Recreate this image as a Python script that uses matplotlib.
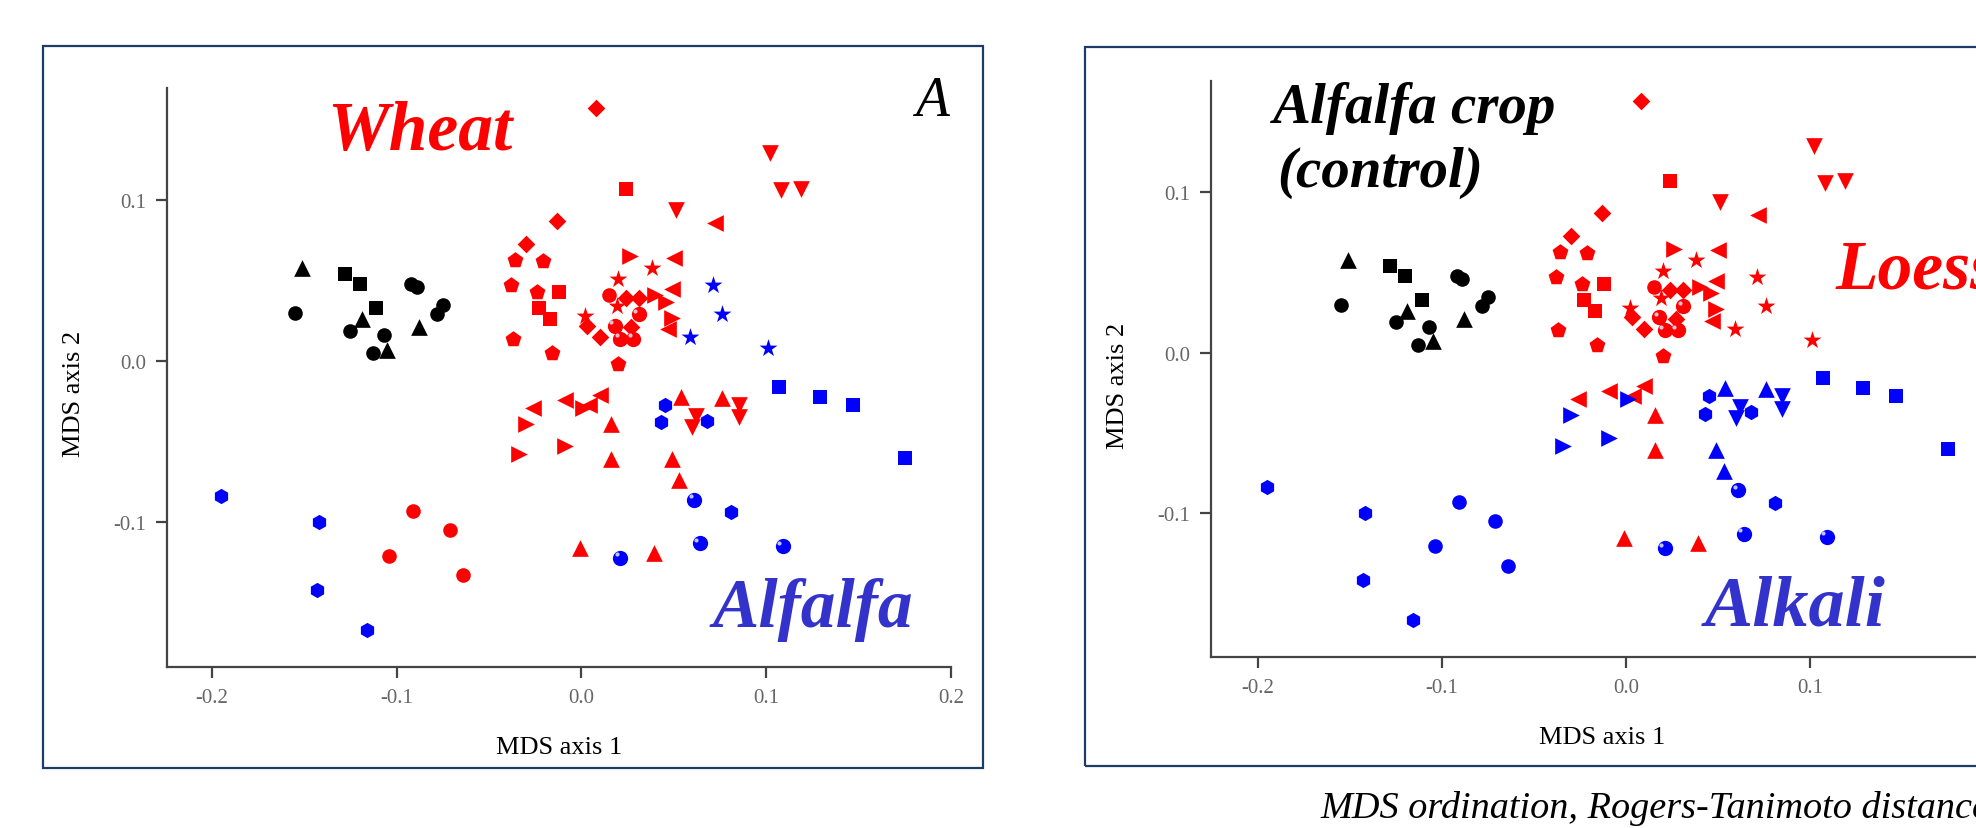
import numpy as np
import matplotlib.pyplot as plt
from matplotlib.patches import Rectangle
from matplotlib.transforms import ScaledTranslation

plt.rcParams['font.family'] = ['Liberation Serif', 'DejaVu Serif']

# MDS scores (same ordination in both panels)
# groups: panel A  C = alfalfa crop control, W = wheat, A = alfalfa
#         panel B  C = control, L = loess, K = alkali
# control samples
mds1 = [-0.151, -0.155, -0.128, -0.120, -0.111, -0.119, -0.125, -0.107, -0.113, -0.105,
        -0.092, -0.089, -0.088, -0.078, -0.075]
mds2 = [0.058, 0.030, 0.054, 0.048, 0.033, 0.026, 0.019, 0.016, 0.005, 0.007,
        0.048, 0.046, 0.021, 0.029, 0.035]
shape = ['^', 'o', 's', 's', 's', '^', 'o', 'o', 'o', '^', 'o', 'o', '^', 'o', 'o']
group_a = ['C'] * 15
group_b = ['C'] * 15

# wheat / loess
mds1 += [0.008, -0.013, -0.030, 0.003, 0.010, 0.027, 0.024, 0.031,
         0.015,
         0.024, -0.012, -0.023, -0.017,
         -0.036, -0.021, -0.038, -0.024, -0.037, -0.016, 0.020,
         0.102, 0.108, 0.119, 0.051,
         0.072, 0.050, 0.049, 0.047, -0.026, -0.009, 0.004, 0.010,
         0.026, 0.040, 0.046, 0.049,
         0.038, 0.020, 0.019, 0.002,
         0.031, 0.018, 0.021, 0.028,
         0.016, 0.016, -0.001, 0.039]
mds2 += [0.157, 0.087, 0.073, 0.022, 0.015, 0.021, 0.039, 0.039,
         0.041,
         0.107, 0.043, 0.033, 0.026,
         0.063, 0.062, 0.047, 0.043, 0.014, 0.005, -0.002,
         0.129, 0.106, 0.107, 0.094,
         0.086, 0.064, 0.045, 0.020, -0.029, -0.024, -0.027, -0.021,
         0.065, 0.041, 0.037, 0.027,
         0.058, 0.051, 0.034, 0.028,
         0.029, 0.022, 0.014, 0.014,
         -0.039, -0.061, -0.116, -0.119]
shape += ['D'] * 8 + ['o'] + ['s'] * 4 + ['p'] * 7 + ['v'] * 4 + ['<'] * 8 \
    + ['>'] * 4 + ['*'] * 4 + ['ball'] * 4 + ['^'] * 4
group_a += ['W'] * 48
group_b += ['L'] * 48

# wheat / alkali
mds1 += [0.001, -0.030, -0.034, -0.009,
         0.054, 0.076, 0.049, 0.053,
         0.062, 0.060, 0.085, 0.085,
         -0.104, -0.091, -0.071, -0.064]
mds2 += [-0.029, -0.039, -0.058, -0.053,
         -0.022, -0.023, -0.061, -0.074,
         -0.034, -0.041, -0.027, -0.035,
         -0.121, -0.093, -0.105, -0.133]
shape += ['>'] * 4 + ['^'] * 4 + ['v'] * 4 + ['o'] * 4
group_a += ['W'] * 16
group_b += ['K'] * 16

# alfalfa / loess
mds1 += [0.071, 0.076, 0.059, 0.101]
mds2 += [0.047, 0.029, 0.015, 0.008]
shape += ['*'] * 4
group_a += ['A'] * 4
group_b += ['L'] * 4

# alfalfa / alkali
mds1 += [0.107, 0.129, 0.147, 0.175,
         -0.195, -0.142, -0.143, -0.116, 0.045, 0.043, 0.068, 0.081,
         0.061, 0.064, 0.109, 0.021]
mds2 += [-0.016, -0.022, -0.027, -0.060,
         -0.084, -0.100, -0.142, -0.167, -0.027, -0.038, -0.037, -0.094,
         -0.086, -0.113, -0.115, -0.122]
shape += ['s'] * 4 + ['h'] * 8 + ['ball'] * 4
group_a += ['A'] * 16
group_b += ['K'] * 16

xticks = [-0.2, -0.1, 0.0, 0.1, 0.2]
xticklabels = ['-0.2', '-0.1', '0.0', '0.1', '0.2']
yticks = [-0.1, 0.0, 0.1]
yticklabels = ['-0.1', '0.0', '0.1']

colors_a = {'C': 'black', 'W': '#ff0000', 'A': '#0000ff'}
colors_b = {'C': 'black', 'L': '#ff0000', 'K': '#0000ff'}
msize = {'o': 10.5, 's': 10, 'D': 9, 'p': 12, '^': 12, 'v': 12, '<': 12, '>': 12,
         '*': 13.5, 'h': 11, 'ball': 11}

x = np.array(mds1)
y = np.array(mds2)
shape = np.array(shape)

fig = plt.figure(figsize=(19.76, 8.29), dpi=100)
fig.patch.set_facecolor('white')

# frames around the two panels
frame_col = '#1d3d66'
fig.add_artist(Rectangle((0.0218, 0.0724), 0.4757, 0.8709, transform=fig.transFigure,
                         fill=False, edgecolor=frame_col, lw=1.6))
fig.add_artist(Rectangle((0.5491, 0.0748), 0.48, 0.8673, transform=fig.transFigure,
                         fill=False, edgecolor=frame_col, lw=1.6))

ax_a = fig.add_axes([0.0845, 0.1942, 0.3968, 0.6984])
ax_b = fig.add_axes([0.6129, 0.2063, 0.3962, 0.6948])


def draw_panel(ax, groups, cmap):
    groups = np.array(groups)
    for g, col in cmap.items():
        for m in np.unique(shape):
            sel = (groups == g) & (shape == m)
            if not sel.any():
                continue
            mk = 'o' if m == 'ball' else m
            ax.scatter(x[sel], y[sel], marker=mk, s=msize[m] ** 2, color=col,
                       linewidths=0, zorder=3)
            if m == 'ball':
                off = ScaledTranslation(-2.5 / 72, 2.5 / 72, fig.dpi_scale_trans)
                ax.scatter(x[sel], y[sel], marker='o', s=9, color='#d8d8ee', alpha=0.9,
                           linewidths=0, zorder=4, transform=ax.transData + off)
    ax.set_xlim(-0.2243, 0.1995)
    ax.set_ylim(-0.190, 0.1696)
    ax.set_xticks(xticks)
    ax.set_xticklabels(xticklabels)
    ax.set_yticks(yticks)
    ax.set_yticklabels(yticklabels)
    for side in ['top', 'right']:
        ax.spines[side].set_visible(False)
    for side in ['left', 'bottom']:
        ax.spines[side].set_color('#444444')
        ax.spines[side].set_linewidth(1.6)
    ax.tick_params(direction='out', length=8, width=1.6, color='#444444',
                   labelcolor='#666666', labelsize=15, pad=7)
    ax.set_xlabel('MDS axis 1', fontsize=19, color='black')
    ax.set_ylabel('MDS axis 2', fontsize=19, color='black')
    ax.xaxis.set_label_coords(0.5, -0.119)
    ax.yaxis.set_label_coords(-0.105, 0.473)
    ax.patch.set_alpha(0)


draw_panel(ax_a, group_a, colors_a)
draw_panel(ax_b, group_b, colors_b)
ax_b.set_xlim(-0.2255, 0.2)

bi = dict(fontweight='bold', fontstyle='italic', clip_on=False, va='baseline')
ax_a.text(0.204, 0.895, 'Wheat', transform=ax_a.transAxes, color='#ff0000', fontsize=50, **bi)
ax_a.text(0.696, 0.071, 'Alfalfa', transform=ax_a.transAxes, color='#3333cc', fontsize=50, **bi)
ax_a.text(0.954, 0.953, 'A', transform=ax_a.transAxes, fontsize=40, fontstyle='italic',
          va='baseline', clip_on=False)

ax_b.text(0.079, 0.929, 'Alfalfa crop', transform=ax_b.transAxes, color='black', fontsize=41, **bi)
ax_b.text(0.084, 0.818, '(control)', transform=ax_b.transAxes, color='black', fontsize=41, **bi)
ax_b.text(0.797, 0.642, 'Loess', transform=ax_b.transAxes, color='#ff0000', fontsize=50, **bi)
ax_b.text(0.631, 0.057, 'Alkali', transform=ax_b.transAxes, color='#3333cc', fontsize=52, **bi)
ax_b.text(0.9885, 0.946, 'B', transform=ax_b.transAxes, fontsize=40, fontstyle='italic',
          va='baseline', clip_on=False)

fig.text(0.668, 0.0135, 'MDS ordination, Rogers-Tanimoto distance', fontsize=27.5,
         fontstyle='italic', va='baseline')

fig.savefig('out.png', dpi=100)
